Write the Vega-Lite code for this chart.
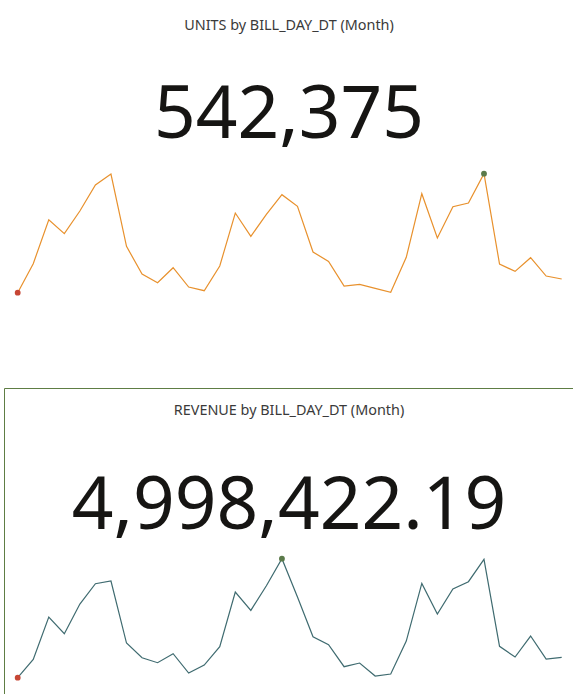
{
  "$schema": "https://vega.github.io/schema/vega-lite/v6.json",
  "padding": {"left": 3, "top": 0, "right": 0, "bottom": 0},
  "autosize": {"type": "pad"},
  "bounds": "flush",
  "spacing": 58,
  "config": {"view": {"stroke": null}, "font": "Noto Sans"},
  "datasets": {
    "units": [
      {"month": "2019-01", "units": 10833}, {"month": "2019-02", "units": 13443}, {"month": "2019-03", "units": 17403},
      {"month": "2019-04", "units": 16143}, {"month": "2019-05", "units": 18183}, {"month": "2019-06", "units": 20523},
      {"month": "2019-07", "units": 21510}, {"month": "2019-08", "units": 15003}, {"month": "2019-09", "units": 12513},
      {"month": "2019-10", "units": 11733}, {"month": "2019-11", "units": 13083}, {"month": "2019-12", "units": 11343},
      {"month": "2020-01", "units": 11013}, {"month": "2020-02", "units": 13233}, {"month": "2020-03", "units": 18003},
      {"month": "2020-04", "units": 15903}, {"month": "2020-05", "units": 17883}, {"month": "2020-06", "units": 19653},
      {"month": "2020-07", "units": 18603}, {"month": "2020-08", "units": 14493}, {"month": "2020-09", "units": 13653},
      {"month": "2020-10", "units": 11433}, {"month": "2020-11", "units": 11583}, {"month": "2020-12", "units": 11223},
      {"month": "2021-01", "units": 10863}, {"month": "2021-02", "units": 14013}, {"month": "2021-03", "units": 19743},
      {"month": "2021-04", "units": 15753}, {"month": "2021-05", "units": 18573}, {"month": "2021-06", "units": 18903},
      {"month": "2021-07", "units": 21543}, {"month": "2021-08", "units": 13413}, {"month": "2021-09", "units": 12753},
      {"month": "2021-10", "units": 13983}, {"month": "2021-11", "units": 12333}, {"month": "2021-12", "units": 12063}
    ],
    "revenue": [
      {"month": "2019-01", "revenue": 98961.40}, {"month": "2019-02", "revenue": 114361.25}, {"month": "2019-03", "revenue": 149921.80},
      {"month": "2019-04", "revenue": 135921.15}, {"month": "2019-05", "revenue": 160841.60}, {"month": "2019-06", "revenue": 177921.35},
      {"month": "2019-07", "revenue": 180161.90}, {"month": "2019-08", "revenue": 128081.05}, {"month": "2019-09", "revenue": 115761.70},
      {"month": "2019-10", "revenue": 111561.45}, {"month": "2019-11", "revenue": 119121.30}, {"month": "2019-12", "revenue": 102881.85},
      {"month": "2020-01", "revenue": 109601.20}, {"month": "2020-02", "revenue": 125001.55}, {"month": "2020-03", "revenue": 170921.10},
      {"month": "2020-04", "revenue": 155521.75}, {"month": "2020-05", "revenue": 176241.40}, {"month": "2020-06", "revenue": 198921.65},
      {"month": "2020-07", "revenue": 166721.30}, {"month": "2020-08", "revenue": 133401.95}, {"month": "2020-09", "revenue": 126681.20},
      {"month": "2020-10", "revenue": 108201.50}, {"month": "2020-11", "revenue": 111281.85}, {"month": "2020-12", "revenue": 100361.10},
      {"month": "2021-01", "revenue": 102041.45}, {"month": "2021-02", "revenue": 129761.70}, {"month": "2021-03", "revenue": 178201.25},
      {"month": "2021-04", "revenue": 152441.60}, {"month": "2021-05", "revenue": 173441.15}, {"month": "2021-06", "revenue": 179601.80},
      {"month": "2021-07", "revenue": 198361.35}, {"month": "2021-08", "revenue": 125281.90}, {"month": "2021-09", "revenue": 116321.05},
      {"month": "2021-10", "revenue": 133961.40}, {"month": "2021-11", "revenue": 114641.75}, {"month": "2021-12", "revenue": 116041.55}
    ]
  },
  "vconcat": [
    {
      "width": 570,
      "height": 330,
      "data": {"name": "units"},
      "title": {
        "text": "UNITS by BILL_DAY_DT (Month)",
        "subtitle": "542,375",
        "anchor": "middle",
        "frame": "group",
        "baseline": "top",
        "offset": -154,
        "font": "Noto Sans",
        "fontSize": 14.4,
        "fontWeight": "normal",
        "color": "#3a3a3a",
        "subtitleFont": "Noto Sans",
        "subtitleFontSize": 73,
        "subtitleColor": "#161513",
        "subtitlePadding": 47
      },
      "encoding": {
        "x": {"field": "month", "type": "ordinal", "sort": null, "scale": {"type": "point", "padding": 0, "range": [13.7, 557.7]}, "axis": null},
        "y": {"field": "units", "type": "quantitative", "scale": {"zero": false, "nice": false, "range": [292.7, 173.7]}, "axis": null}
      },
      "layer": [
        {"mark": {"type": "line", "color": "#e8912d", "strokeWidth": 1.2}},
        {
          "transform": [{"joinaggregate": [{"op": "min", "field": "units", "as": "lo"}]}, {"filter": "datum.units == datum.lo"}],
          "mark": {"type": "point", "filled": true, "color": "#c74634", "size": 34, "opacity": 1}
        },
        {
          "transform": [{"joinaggregate": [{"op": "max", "field": "units", "as": "hi"}]}, {"filter": "datum.units == datum.hi"}],
          "mark": {"type": "point", "filled": true, "color": "#5b7a4a", "size": 34, "opacity": 1}
        }
      ]
    },
    {
      "width": 570,
      "height": 306,
      "data": {"name": "revenue"},
      "view": {"stroke": "#5e7d44", "strokeWidth": 1, "strokeDash": [570, 876, 306, 0]},
      "title": {
        "text": "REVENUE by BILL_DAY_DT (Month)",
        "subtitle": "4,998,422.19",
        "anchor": "middle",
        "frame": "group",
        "baseline": "top",
        "offset": -157,
        "font": "Noto Sans",
        "fontSize": 14.4,
        "fontWeight": "normal",
        "color": "#3a3a3a",
        "subtitleFont": "Noto Sans",
        "subtitleFontSize": 73,
        "subtitleColor": "#161513",
        "subtitlePadding": 53
      },
      "encoding": {
        "x": {"field": "month", "type": "ordinal", "sort": null, "scale": {"type": "point", "padding": 0, "range": [13.7, 557.7]}, "axis": null},
        "y": {"field": "revenue", "type": "quantitative", "scale": {"zero": false, "nice": false, "range": [289.7, 170.7]}, "axis": null}
      },
      "layer": [
        {"mark": {"type": "line", "color": "#3f6b70", "strokeWidth": 1.2}},
        {
          "transform": [{"joinaggregate": [{"op": "min", "field": "revenue", "as": "lo"}]}, {"filter": "datum.revenue == datum.lo"}],
          "mark": {"type": "point", "filled": true, "color": "#c74634", "size": 34, "opacity": 1}
        },
        {
          "transform": [{"joinaggregate": [{"op": "max", "field": "revenue", "as": "hi"}]}, {"filter": "datum.revenue == datum.hi"}],
          "mark": {"type": "point", "filled": true, "color": "#5b7a4a", "size": 34, "opacity": 1}
        }
      ]
    }
  ]
}
